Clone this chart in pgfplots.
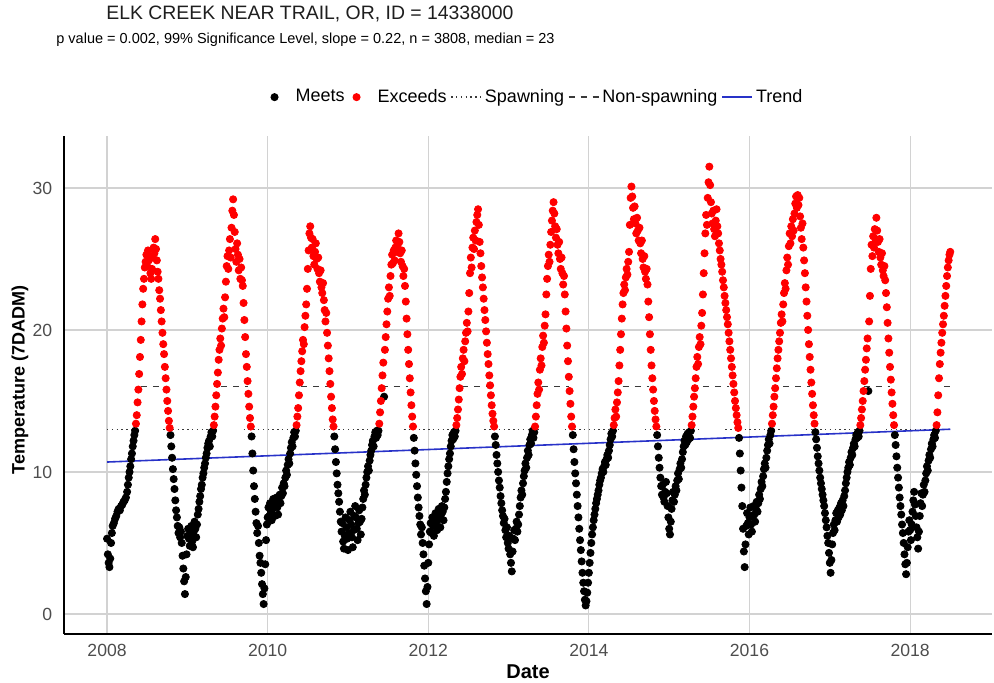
\documentclass[border=0pt]{standalone}
\usepackage{fontspec}
\setmainfont{Liberation Sans}
\usepackage{pgfplots}
\pgfplotsset{compat=1.18}
\usepackage{pgfplotstable}

\definecolor{tickgray}{HTML}{4D4D4D}
\definecolor{gridgray}{HTML}{D2D2D2}
\definecolor{trendblue}{RGB}{40,50,200}
\definecolor{refline}{HTML}{3A3A3A}

\pgfplotsset{
  marklegend/.style={legend image code/.code={\path[draw=none,fill=none] (0pt,0pt) -- (13pt,0pt);
    \draw[##1, only marks] plot coordinates {(4pt,0pt)};}},
  linelegend/.style={legend image code/.code={\draw[##1] (0pt,0pt) -- (15pt,0pt);}},
}

\pgfplotstableread{
t v
2008.000 5.3
2008.010 4.2
2008.020 3.6
2008.030 3.3
2008.040 3.9
2008.050 5.0
2008.060 5.7
2008.070 6.2
2008.085 6.4
2008.100 6.7
2008.115 6.9
2008.130 7.2
2008.145 7.4
2008.160 7.3
2008.175 7.6
2008.190 7.7
2008.205 7.9
2008.220 8.0
2008.235 8.2
2008.250 8.6
2008.260 9.1
2008.270 9.6
2008.280 10.0
2008.290 10.4
2008.300 10.9
2008.310 11.3
2008.320 11.8
2008.330 12.2
2008.340 12.6
2008.350 12.9
2008.790 12.6
2008.800 11.8
2008.810 11.0
2008.820 10.2
2008.830 9.5
2008.840 8.8
2008.850 8.0
2008.860 7.3
2008.870 6.8
2008.880 6.2
2008.890 5.7
2008.900 6.1
2008.910 5.4
2008.920 5.8
2008.930 5.0
2008.940 4.1
2008.950 3.2
2008.960 2.3
2008.970 1.4
2008.980 2.6
2008.990 4.2
2009.000 5.5
2009.010 6.0
2009.020 5.3
2009.030 4.8
2009.040 5.6
2009.050 6.2
2009.060 5.1
2009.070 4.7
2009.080 5.8
2009.090 6.5
2009.100 6.0
2009.110 5.4
2009.120 6.3
2009.130 7.0
2009.140 7.4
2009.150 7.9
2009.160 8.3
2009.170 8.8
2009.180 9.1
2009.190 9.6
2009.200 9.9
2009.210 10.3
2009.220 10.6
2009.230 11.0
2009.240 11.3
2009.250 11.7
2009.260 12.0
2009.270 12.2
2009.280 11.8
2009.290 12.5
2009.300 12.8
2009.310 12.5
2009.320 12.9
2009.800 12.5
2009.810 11.3
2009.820 10.1
2009.830 9.0
2009.840 8.1
2009.850 7.2
2009.860 6.4
2009.870 5.7
2009.880 6.2
2009.890 5.0
2009.900 4.1
2009.910 3.6
2009.920 2.9
2009.930 2.1
2009.940 1.4
2009.950 0.7
2009.960 1.8
2009.970 3.5
2009.980 5.2
2009.990 6.3
2010.000 6.8
2010.010 7.5
2010.020 6.9
2010.030 7.8
2010.040 7.2
2010.050 6.6
2010.060 7.4
2010.070 8.1
2010.080 7.6
2010.090 6.9
2010.100 7.7
2010.110 8.2
2010.120 7.5
2010.130 7.0
2010.140 7.9
2010.150 8.4
2010.160 7.8
2010.170 8.3
2010.180 8.9
2010.190 8.5
2010.200 9.2
2010.210 9.0
2010.220 9.6
2010.230 10.1
2010.240 9.8
2010.250 10.5
2010.260 10.9
2010.270 10.6
2010.280 11.3
2010.290 11.7
2010.300 12.1
2010.310 11.8
2010.320 12.4
2010.330 12.8
2010.340 12.5
2010.350 12.9
2010.830 12.5
2010.840 11.6
2010.850 10.7
2010.860 9.9
2010.870 9.1
2010.880 8.5
2010.890 7.9
2010.900 7.2
2010.910 6.5
2010.920 5.8
2010.930 6.4
2010.940 5.1
2010.950 4.6
2010.960 5.5
2010.970 6.8
2010.980 6.1
2010.990 5.3
2011.000 4.5
2011.010 5.7
2011.020 6.6
2011.030 7.2
2011.040 6.3
2011.050 5.4
2011.060 4.7
2011.070 5.9
2011.080 6.9
2011.090 7.6
2011.100 6.8
2011.110 6.0
2011.120 5.2
2011.130 6.4
2011.140 7.3
2011.150 6.5
2011.160 5.6
2011.170 6.7
2011.180 7.5
2011.190 8.1
2011.200 8.7
2011.210 8.4
2011.220 9.1
2011.230 9.6
2011.240 10.0
2011.250 10.4
2011.260 10.1
2011.270 10.8
2011.280 11.2
2011.290 11.5
2011.300 11.9
2011.310 12.2
2011.320 11.8
2011.330 12.5
2011.340 12.8
2011.350 12.4
2011.360 12.9
2011.370 12.6
2011.380 12.9
2011.450 15.3
2011.820 12.4
2011.830 11.5
2011.840 10.6
2011.850 9.8
2011.860 9.0
2011.870 8.2
2011.880 7.5
2011.890 6.9
2011.900 6.3
2011.910 5.6
2011.920 6.1
2011.930 5.0
2011.940 4.2
2011.950 3.4
2011.960 2.5
2011.970 1.6
2011.980 0.7
2011.990 1.9
2012.000 3.6
2012.010 4.9
2012.020 5.8
2012.030 6.4
2012.040 5.7
2012.050 6.8
2012.060 6.2
2012.070 5.5
2012.080 6.6
2012.090 7.1
2012.100 6.4
2012.110 5.9
2012.120 6.9
2012.130 7.4
2012.140 6.7
2012.150 6.1
2012.160 7.0
2012.170 7.6
2012.180 7.2
2012.190 6.6
2012.200 7.5
2012.210 8.1
2012.220 8.6
2012.230 9.3
2012.240 9.9
2012.250 10.4
2012.260 10.9
2012.270 11.3
2012.280 11.8
2012.290 12.2
2012.300 12.6
2012.310 12.3
2012.320 12.8
2012.330 12.5
2012.340 12.9
2012.830 12.5
2012.840 11.9
2012.850 11.2
2012.860 10.6
2012.870 10.0
2012.880 9.4
2012.890 8.9
2012.900 8.3
2012.910 7.8
2012.920 7.3
2012.930 6.9
2012.940 6.4
2012.950 6.7
2012.960 5.9
2012.970 5.4
2012.980 6.1
2012.990 5.0
2013.000 4.6
2013.010 5.5
2013.020 4.2
2013.030 3.6
2013.040 3.0
2013.050 4.4
2013.060 5.3
2013.070 5.9
2013.080 5.2
2013.090 6.0
2013.100 6.5
2013.110 5.8
2013.120 6.3
2013.130 7.0
2013.140 7.6
2013.150 8.2
2013.160 8.7
2013.170 8.4
2013.180 9.2
2013.190 9.7
2013.200 10.1
2013.210 10.6
2013.220 10.3
2013.230 11.0
2013.240 11.5
2013.250 11.2
2013.260 11.9
2013.270 12.3
2013.280 12.0
2013.290 12.6
2013.300 12.9
2013.310 12.4
2013.320 12.8
2013.800 12.6
2013.810 11.6
2013.820 10.7
2013.830 9.9
2013.840 9.2
2013.850 8.4
2013.860 7.6
2013.870 6.8
2013.880 6.0
2013.890 5.2
2013.900 4.5
2013.910 3.7
2013.920 2.9
2013.930 2.2
2013.940 1.6
2013.950 1.0
2013.960 0.6
2013.970 0.9
2013.980 1.5
2013.990 2.2
2014.000 2.9
2014.010 3.6
2014.020 4.3
2014.030 5.0
2014.040 5.6
2014.050 6.1
2014.060 6.6
2014.070 7.0
2014.080 7.4
2014.090 7.8
2014.100 8.1
2014.110 8.4
2014.120 8.7
2014.130 9.1
2014.140 9.4
2014.150 9.6
2014.160 9.9
2014.170 10.2
2014.180 10.0
2014.190 10.4
2014.200 10.7
2014.210 10.5
2014.220 10.9
2014.230 11.2
2014.240 11.0
2014.250 11.5
2014.260 11.9
2014.270 12.3
2014.280 12.7
2014.290 12.5
2014.300 12.9
2014.850 12.6
2014.860 11.8
2014.870 11.0
2014.880 10.3
2014.890 9.6
2014.900 9.0
2014.910 8.4
2014.920 9.1
2014.930 8.2
2014.940 7.9
2014.950 8.6
2014.960 9.3
2014.970 8.5
2014.980 7.6
2014.990 6.8
2015.000 6.0
2015.010 5.6
2015.020 6.5
2015.030 7.4
2015.040 8.0
2015.050 8.6
2015.060 7.9
2015.070 8.4
2015.080 9.0
2015.090 8.7
2015.100 9.4
2015.110 9.9
2015.120 9.5
2015.130 10.2
2015.140 10.6
2015.150 10.3
2015.160 10.9
2015.170 11.4
2015.180 11.8
2015.190 12.2
2015.200 11.9
2015.210 12.5
2015.220 12.1
2015.230 12.7
2015.240 12.3
2015.250 12.8
2015.260 12.4
2015.270 12.9
2015.870 12.4
2015.880 11.3
2015.890 10.1
2015.900 8.9
2015.910 7.6
2015.920 6.0
2015.930 4.4
2015.940 3.3
2015.950 4.9
2015.960 6.2
2015.970 7.1
2015.980 6.4
2015.990 5.6
2016.000 6.8
2016.010 7.5
2016.020 6.3
2016.030 5.8
2016.040 6.9
2016.050 7.6
2016.060 7.0
2016.070 6.5
2016.080 7.4
2016.090 7.9
2016.100 7.2
2016.110 7.8
2016.120 8.4
2016.130 8.1
2016.140 8.8
2016.150 9.3
2016.160 9.0
2016.170 9.7
2016.180 10.2
2016.190 10.6
2016.200 10.3
2016.210 11.0
2016.220 11.5
2016.230 11.9
2016.240 12.3
2016.250 12.0
2016.260 12.6
2016.270 12.9
2016.820 12.8
2016.830 12.3
2016.840 11.7
2016.850 11.1
2016.860 10.6
2016.870 10.1
2016.880 9.6
2016.890 9.2
2016.900 8.8
2016.910 8.4
2016.920 8.0
2016.930 7.6
2016.940 7.1
2016.950 6.6
2016.960 6.1
2016.970 5.5
2016.980 5.0
2016.990 4.3
2017.000 3.6
2017.010 2.9
2017.020 3.8
2017.030 4.9
2017.040 5.7
2017.050 6.3
2017.060 5.9
2017.070 6.6
2017.080 7.1
2017.090 6.5
2017.100 7.3
2017.110 6.8
2017.120 7.5
2017.130 7.0
2017.140 7.8
2017.150 7.3
2017.160 8.0
2017.170 7.6
2017.180 8.3
2017.190 8.7
2017.200 9.2
2017.210 9.6
2017.220 10.0
2017.230 10.3
2017.240 10.7
2017.250 10.5
2017.260 11.0
2017.270 11.4
2017.280 11.2
2017.290 11.7
2017.300 12.0
2017.310 11.8
2017.320 12.3
2017.330 12.6
2017.340 12.4
2017.350 12.8
2017.360 12.5
2017.370 12.9
2017.480 15.7
2017.810 12.6
2017.820 11.9
2017.830 11.1
2017.840 10.3
2017.850 9.6
2017.860 8.9
2017.870 8.2
2017.880 7.6
2017.890 7.0
2017.900 6.3
2017.910 5.7
2017.920 5.0
2017.930 4.2
2017.940 3.5
2017.950 2.8
2017.960 3.6
2017.970 4.7
2017.980 5.8
2017.990 6.6
2018.000 5.9
2018.010 5.2
2018.020 6.3
2018.030 7.2
2018.040 8.0
2018.050 8.6
2018.060 7.7
2018.070 6.9
2018.080 6.1
2018.090 5.4
2018.100 4.6
2018.110 5.8
2018.120 6.9
2018.130 7.8
2018.140 8.5
2018.150 7.6
2018.160 8.4
2018.170 9.1
2018.180 8.6
2018.190 9.4
2018.200 9.9
2018.210 10.4
2018.220 10.1
2018.230 10.8
2018.240 11.2
2018.250 11.0
2018.260 11.6
2018.270 12.0
2018.280 11.8
2018.290 12.3
2018.300 12.6
2018.310 12.4
2018.320 12.9
}\meets

\pgfplotstableread{
t v
2008.360 13.4
2008.370 14.0
2008.380 14.9
2008.390 15.8
2008.400 16.9
2008.410 18.1
2008.420 19.3
2008.430 20.6
2008.440 21.8
2008.450 22.9
2008.460 23.6
2008.470 24.4
2008.480 24.8
2008.490 25.3
2008.500 24.5
2008.510 25.6
2008.520 24.9
2008.530 25.2
2008.540 24.0
2008.550 23.6
2008.560 24.3
2008.570 25.1
2008.580 25.8
2008.590 25.4
2008.600 26.4
2008.610 25.7
2008.620 24.9
2008.630 24.1
2008.640 23.6
2008.650 22.8
2008.660 22.2
2008.670 21.4
2008.680 20.6
2008.690 19.8
2008.700 19.0
2008.710 18.3
2008.720 17.4
2008.730 16.6
2008.740 15.8
2008.750 15.0
2008.760 14.3
2008.770 13.6
2008.780 13.1
2009.330 13.3
2009.340 13.9
2009.350 14.6
2009.360 15.4
2009.370 16.2
2009.380 17.0
2009.390 17.9
2009.400 18.6
2009.410 19.4
2009.420 18.9
2009.430 20.1
2009.440 20.8
2009.450 21.5
2009.460 20.9
2009.470 22.3
2009.480 23.4
2009.490 24.5
2009.500 25.2
2009.510 24.3
2009.520 25.6
2009.530 26.4
2009.540 25.1
2009.550 27.2
2009.560 28.4
2009.570 29.2
2009.580 28.1
2009.590 26.9
2009.600 25.7
2009.610 24.8
2009.620 26.1
2009.630 25.3
2009.640 24.2
2009.650 25.0
2009.660 23.6
2009.670 24.4
2009.680 23.5
2009.690 23.1
2009.700 21.9
2009.710 20.7
2009.720 19.5
2009.730 18.3
2009.740 17.4
2009.750 16.4
2009.760 15.5
2009.770 14.6
2009.780 13.8
2009.790 13.2
2010.360 13.3
2010.370 13.9
2010.380 14.5
2010.390 15.4
2010.400 16.3
2010.410 17.1
2010.420 17.8
2010.430 18.5
2010.440 19.3
2010.450 19.0
2010.460 20.2
2010.470 21.0
2010.480 21.8
2010.490 22.9
2010.500 24.3
2010.510 25.6
2010.520 26.8
2010.530 27.3
2010.540 26.5
2010.550 25.8
2010.560 26.4
2010.570 25.2
2010.580 24.6
2010.590 25.5
2010.600 26.1
2010.610 25.0
2010.620 24.3
2010.630 25.1
2010.640 24.0
2010.650 23.4
2010.660 24.2
2010.670 23.0
2010.680 22.6
2010.690 23.3
2010.700 22.1
2010.710 21.4
2010.720 20.6
2010.730 21.2
2010.740 19.8
2010.750 18.9
2010.760 18.0
2010.770 17.1
2010.780 16.2
2010.790 15.3
2010.800 14.5
2010.810 13.7
2010.820 13.2
2011.390 13.4
2011.400 14.2
2011.410 15.0
2011.420 15.9
2011.430 16.8
2011.440 17.7
2011.460 18.6
2011.470 19.5
2011.480 20.4
2011.490 21.3
2011.500 22.2
2011.510 23.0
2011.520 22.4
2011.530 23.8
2011.540 24.6
2011.550 25.3
2011.560 24.7
2011.570 25.6
2011.580 24.9
2011.590 25.8
2011.600 26.3
2011.610 25.5
2011.620 26.0
2011.630 26.8
2011.640 26.2
2011.650 25.4
2011.660 24.8
2011.670 25.6
2011.680 24.5
2011.690 23.8
2011.700 24.3
2011.710 23.1
2011.720 22.0
2011.730 20.8
2011.740 19.7
2011.750 18.6
2011.760 17.6
2011.770 16.6
2011.780 15.6
2011.790 14.7
2011.800 13.9
2011.810 13.2
2012.350 13.3
2012.360 13.8
2012.370 14.4
2012.380 15.1
2012.390 15.9
2012.400 16.7
2012.410 17.4
2012.420 16.9
2012.430 18.0
2012.440 18.6
2012.450 17.8
2012.460 19.2
2012.470 19.8
2012.480 20.5
2012.490 19.9
2012.500 21.3
2012.510 22.6
2012.520 24.0
2012.530 25.1
2012.540 24.4
2012.550 25.8
2012.560 26.5
2012.570 25.7
2012.580 27.0
2012.590 26.3
2012.600 27.6
2012.610 28.1
2012.620 28.5
2012.630 27.4
2012.640 26.2
2012.650 25.4
2012.660 24.5
2012.670 23.7
2012.680 23.0
2012.690 22.2
2012.700 21.4
2012.710 20.7
2012.720 19.9
2012.730 19.1
2012.740 18.3
2012.750 17.6
2012.760 16.8
2012.770 16.1
2012.780 15.4
2012.790 14.7
2012.800 14.1
2012.810 13.6
2012.820 13.2
2013.330 13.2
2013.340 13.9
2013.350 14.7
2013.360 15.5
2013.370 16.3
2013.380 15.8
2013.390 17.2
2013.400 18.0
2013.410 17.5
2013.420 18.8
2013.430 19.6
2013.440 19.1
2013.450 20.3
2013.460 21.1
2013.470 22.5
2013.480 23.6
2013.490 24.5
2013.500 25.3
2013.510 24.8
2013.520 26.0
2013.530 26.9
2013.540 27.7
2013.550 28.4
2013.560 29.0
2013.570 28.2
2013.580 27.3
2013.590 26.5
2013.600 27.1
2013.610 26.0
2013.620 25.4
2013.630 26.2
2013.640 25.0
2013.650 24.3
2013.660 25.1
2013.670 24.0
2013.680 23.2
2013.690 23.8
2013.700 22.5
2013.710 21.3
2013.720 20.1
2013.730 18.9
2013.740 17.8
2013.750 16.7
2013.760 15.7
2013.770 14.8
2013.780 13.9
2013.790 13.2
2014.310 13.3
2014.320 13.8
2014.330 14.4
2014.340 13.9
2014.350 14.9
2014.360 15.6
2014.370 16.4
2014.380 17.5
2014.390 18.6
2014.400 19.7
2014.410 20.8
2014.420 21.8
2014.430 22.6
2014.440 23.2
2014.450 22.8
2014.460 23.7
2014.470 24.3
2014.480 23.9
2014.490 24.8
2014.500 25.5
2014.510 27.4
2014.520 29.3
2014.530 30.1
2014.540 29.4
2014.550 28.6
2014.560 27.8
2014.570 28.7
2014.580 27.5
2014.590 26.8
2014.600 27.9
2014.610 27.0
2014.620 26.3
2014.630 27.2
2014.640 26.1
2014.650 25.4
2014.660 26.3
2014.670 25.0
2014.680 24.4
2014.690 25.2
2014.700 24.1
2014.710 23.6
2014.720 24.3
2014.730 23.2
2014.740 22.0
2014.750 20.9
2014.760 19.7
2014.770 18.6
2014.780 17.5
2014.790 16.6
2014.800 15.8
2014.810 15.0
2014.820 14.3
2014.830 13.7
2014.840 13.2
2015.280 13.3
2015.290 13.9
2015.300 14.6
2015.310 15.3
2015.320 15.9
2015.330 16.6
2015.340 17.4
2015.350 18.1
2015.360 17.6
2015.370 18.8
2015.380 19.5
2015.390 19.0
2015.400 20.3
2015.410 21.2
2015.420 22.5
2015.430 24.0
2015.440 25.4
2015.450 26.8
2015.460 28.1
2015.470 27.4
2015.480 29.3
2015.490 30.4
2015.500 31.5
2015.510 30.2
2015.520 29.0
2015.530 28.2
2015.540 27.5
2015.550 28.4
2015.560 27.1
2015.570 26.6
2015.580 27.7
2015.590 28.5
2015.600 27.3
2015.610 26.8
2015.620 26.1
2015.630 25.6
2015.640 25.0
2015.650 24.6
2015.660 24.1
2015.670 23.5
2015.680 23.0
2015.690 22.4
2015.700 21.9
2015.710 21.4
2015.720 20.9
2015.730 20.4
2015.740 19.8
2015.750 19.2
2015.760 18.6
2015.770 18.0
2015.780 17.4
2015.790 16.8
2015.800 16.2
2015.810 15.6
2015.820 15.0
2015.830 14.5
2015.840 14.0
2015.850 13.5
2015.860 13.1
2016.280 13.4
2016.290 14.0
2016.300 14.6
2016.310 15.3
2016.320 15.9
2016.330 16.6
2016.340 17.3
2016.350 18.0
2016.360 18.6
2016.370 19.2
2016.380 19.8
2016.390 20.5
2016.400 21.1
2016.410 20.6
2016.420 21.8
2016.430 22.6
2016.440 23.3
2016.450 22.9
2016.460 24.2
2016.470 25.1
2016.480 24.6
2016.490 25.9
2016.500 26.8
2016.510 26.1
2016.520 27.3
2016.530 26.6
2016.540 27.8
2016.550 27.0
2016.560 28.2
2016.570 28.9
2016.580 29.4
2016.590 28.6
2016.600 29.5
2016.610 28.8
2016.620 29.3
2016.630 28.0
2016.640 27.2
2016.650 26.4
2016.660 27.5
2016.670 25.8
2016.680 24.9
2016.690 24.0
2016.700 23.0
2016.710 22.0
2016.720 21.0
2016.730 20.0
2016.740 19.0
2016.750 18.1
2016.760 17.2
2016.770 16.3
2016.780 15.5
2016.790 14.7
2016.800 14.0
2016.810 13.4
2017.380 13.3
2017.390 13.8
2017.400 14.4
2017.410 15.0
2017.420 15.7
2017.430 16.4
2017.440 17.2
2017.450 17.9
2017.460 18.7
2017.470 19.4
2017.490 20.6
2017.500 22.4
2017.510 24.3
2017.520 26.0
2017.530 25.2
2017.540 26.6
2017.550 25.8
2017.560 27.1
2017.570 26.4
2017.580 27.9
2017.590 27.0
2017.600 26.2
2017.610 25.5
2017.620 26.4
2017.630 25.1
2017.640 24.6
2017.650 25.4
2017.660 24.2
2017.670 23.8
2017.680 24.5
2017.690 23.5
2017.700 22.6
2017.710 21.6
2017.720 20.5
2017.730 19.4
2017.740 18.4
2017.750 17.4
2017.760 16.5
2017.770 15.6
2017.780 14.8
2017.790 14.0
2017.800 13.3
2018.330 13.3
2018.340 14.2
2018.350 15.4
2018.360 16.6
2018.370 17.6
2018.380 18.4
2018.390 19.1
2018.400 19.8
2018.410 20.4
2018.420 21.0
2018.430 21.7
2018.440 22.4
2018.450 23.1
2018.460 23.8
2018.470 24.4
2018.480 24.9
2018.490 25.3
2018.500 25.5
}\exceeds

\begin{document}
\begin{tikzpicture}
\path[use as bounding box] (0pt,0pt) rectangle (497pt,341.5pt);
\begin{axis}[
  at={(32pt,24.5pt)}, anchor=south west,
  width=464pt, height=249pt, scale only axis,
  xmin=2007.464, xmax=2019.02, ymin=-1.41, ymax=33.66,
  axis x line*=bottom, axis y line*=left,
  axis line style={black, line width=1pt},
  xtick={2008,2010,2012,2014,2016,2018},
  xticklabels={2008,2010,2012,2014,2016,2018},
  ytick={0,10,20,30},
  yticklabels={0,10,20,30},
  major tick length=0pt,
  grid=major,
  grid style={gridgray, line width=0.6pt},
  tick label style={font=\fontsize{8.8}{10}\selectfont, text=tickgray},
  xticklabel style={yshift=-1.5pt},
  yticklabel style={xshift=-2.4pt},
  unbounded coords=jump,
  legend columns=-1,
  legend style={at={(0.5086,1.078)}, anchor=center, draw=none, fill=none,
    font=\fontsize{9}{10}\selectfont, inner sep=0pt,
    nodes={inner xsep=1.5pt, inner ysep=1pt},
    /tikz/every even column/.append style={column sep=0.5pt}},
]
\addplot[only marks, mark=*, mark size=1.8pt, mark options={draw=black, fill=black}, marklegend]
  table[x=t, y=v] {\meets};
\addlegendentry{Meets}
\addplot[only marks, mark=*, mark size=1.8pt, mark options={draw=red, fill=red}, marklegend]
  table[x=t, y=v] {\exceeds};
\addlegendentry{Exceeds}
\addplot[refline, line width=0.7pt, dash pattern=on 0.7pt off 1.7pt, linelegend]
  coordinates {
  (2008.00,13) (2008.41,13) (2008.415,nan)
  (2008.70,13) (2009.41,13) (2009.415,nan)
  (2009.70,13) (2010.41,13) (2010.415,nan)
  (2010.70,13) (2011.41,13) (2011.415,nan)
  (2011.70,13) (2012.41,13) (2012.415,nan)
  (2012.70,13) (2013.41,13) (2013.415,nan)
  (2013.70,13) (2014.41,13) (2014.415,nan)
  (2014.70,13) (2015.41,13) (2015.415,nan)
  (2015.70,13) (2016.41,13) (2016.415,nan)
  (2016.70,13) (2017.41,13) (2017.415,nan)
  (2017.70,13) (2018.41,13)
  };
\addlegendentry{Spawning}
\addplot[refline, line width=0.7pt, dash pattern=on 3pt off 3pt, linelegend]
  coordinates {
  (2008.42,16) (2008.75,16) (2008.755,nan)
  (2009.42,16) (2009.75,16) (2009.755,nan)
  (2010.42,16) (2010.75,16) (2010.755,nan)
  (2011.42,16) (2011.75,16) (2011.755,nan)
  (2012.42,16) (2012.75,16) (2012.755,nan)
  (2013.42,16) (2013.75,16) (2013.755,nan)
  (2014.42,16) (2014.75,16) (2014.755,nan)
  (2015.42,16) (2015.75,16) (2015.755,nan)
  (2016.42,16) (2016.75,16) (2016.755,nan)
  (2017.42,16) (2017.75,16) (2017.755,nan)
  (2018.42,16) (2018.50,16)
  };
\addlegendentry{Non-spawning}
\addplot[trendblue, line width=0.8pt, linelegend]
  coordinates {(2008.0,10.7) (2018.5,13.01)};
\addlegendentry{Trend}
\end{axis}
\node[anchor=west, inner sep=0pt, font=\fontsize{9.7}{11}\selectfont, text={rgb,255:red,30;green,30;blue,30}] at (53pt,334.5pt) {ELK CREEK NEAR TRAIL, OR, ID = 14338000};
\node[anchor=west, inner sep=0pt, font=\fontsize{7.25}{8.5}\selectfont] at (28pt,321.5pt) {p value = 0.002, 99\% Significance Level, slope = 0.22, n = 3808, median = 23};
\node[font=\bfseries\fontsize{10}{12}\selectfont] at (264pt,5.5pt) {Date};
\node[rotate=90, font=\bfseries\fontsize{9}{11}\selectfont] at (10pt,151.5pt) {Temperature (7DADM)};
\end{tikzpicture}
\end{document}
